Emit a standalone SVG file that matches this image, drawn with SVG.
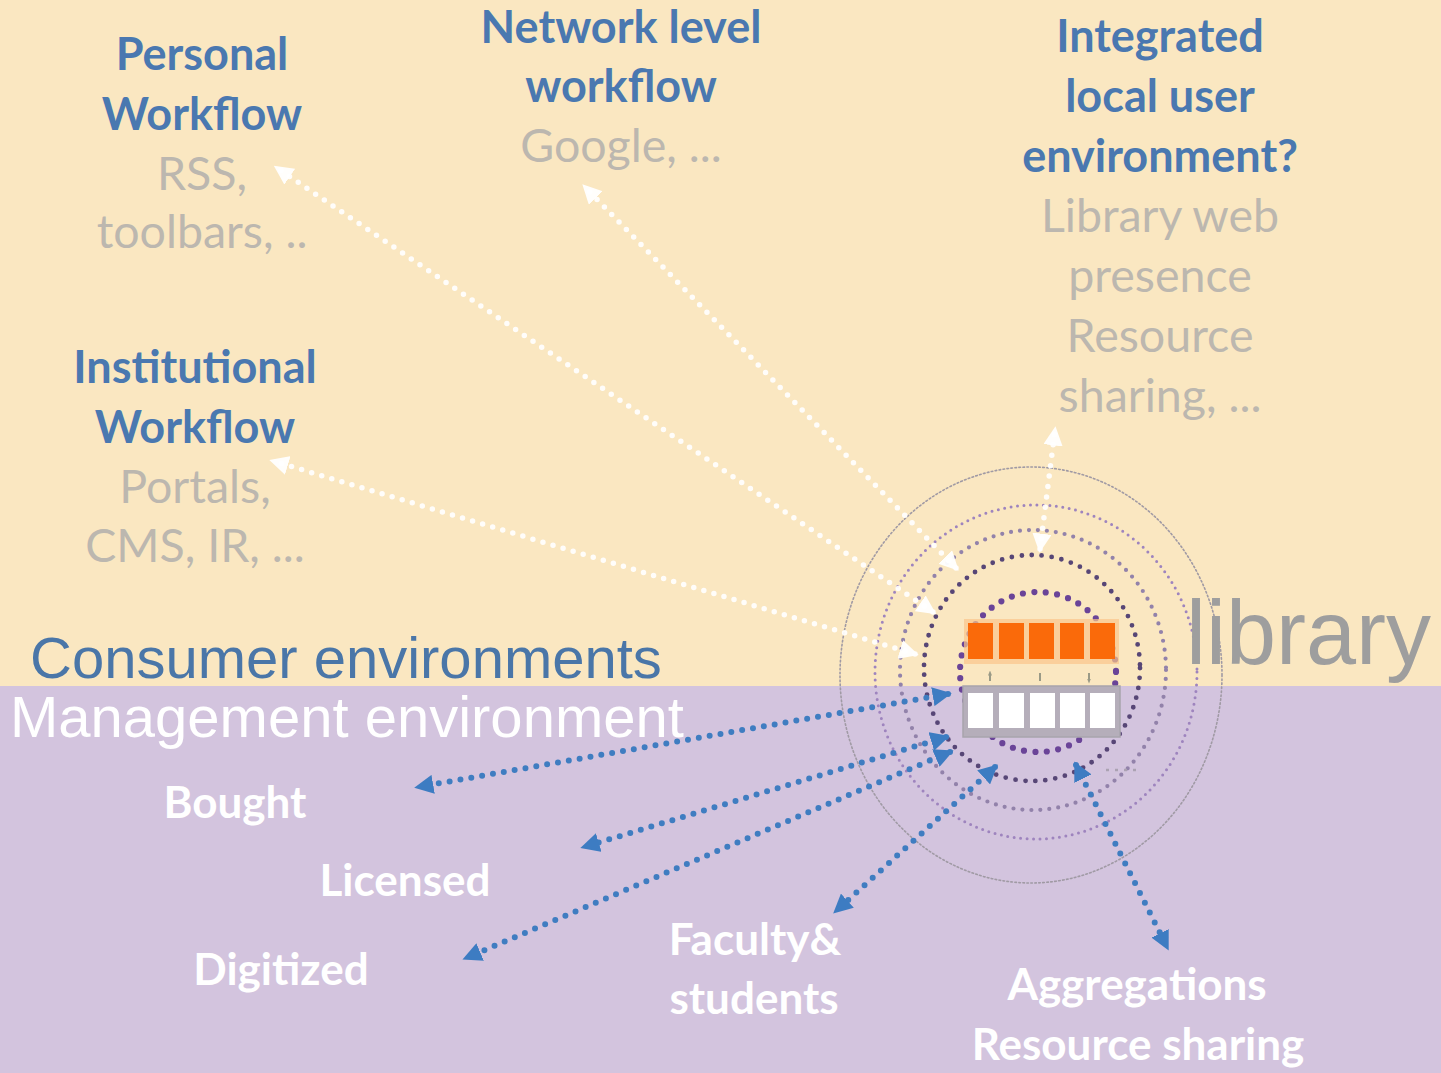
<svg xmlns="http://www.w3.org/2000/svg" width="1441" height="1073" viewBox="0 0 1441 1073">
<defs>
<style>
.hum{font-family:Lato,"Open Sans","Noto Sans",sans-serif;font-weight:700;text-anchor:middle}
.ttl{fill:#4A78B0;font-size:45px}
.sub{fill:#BCB7AF;font-size:46.5px;font-weight:400}
.wht{fill:#FFFFFF;font-size:44px}
.big{font-family:"Liberation Sans",Arial,sans-serif;font-size:58px}
.wline{fill:none;stroke:#FFFFFF;stroke-opacity:0.92;stroke-width:5.5;stroke-linecap:round;stroke-dasharray:0 10.5}
.bline{fill:none;stroke:#3F7DC1;stroke-width:6;stroke-linecap:round;stroke-dasharray:0 11}
.ring{fill:none;stroke-linecap:round}
</style>
<marker id="wh" viewBox="0 0 10 10" refX="8" refY="5" markerWidth="3.5" markerHeight="3.5" orient="auto-start-reverse" markerUnits="strokeWidth">
<path d="M0,0 L10,5 L0,10 z" fill="#FFFFFF" fill-opacity="0.95"/>
</marker>
<marker id="bh" viewBox="0 0 10 10" refX="8" refY="5" markerWidth="3.2" markerHeight="3.2" orient="auto-start-reverse" markerUnits="strokeWidth">
<path d="M0,0 L10,5 L0,10 z" fill="#3D7CC2"/>
</marker>
<marker id="sh" viewBox="0 0 10 10" refX="5" refY="5" markerWidth="2.5" markerHeight="2.5" orient="auto-start-reverse" markerUnits="strokeWidth">
<path d="M0,1 L10,5 L0,9 z" fill="#9A9A86"/>
</marker>
</defs>

<g id="background">
<rect x="0" y="0" width="1441" height="686" fill="#FAE7C1"/>
<rect x="0" y="686" width="1441" height="387" fill="#D3C4DE"/>
</g>

<g id="rings">
<ellipse class="ring" cx="1031" cy="675" rx="191" ry="208" stroke="#A09AA4" stroke-width="1.6" stroke-dasharray="1.6 2.4"/>
<ellipse class="ring" cx="1036" cy="672" rx="161" ry="167" stroke="#9E84BE" stroke-width="3" stroke-dasharray="0 6.5"/>
<ellipse class="ring" cx="1033" cy="670" rx="133" ry="140" stroke="#9282AA" stroke-width="4.2" stroke-dasharray="0 9"/>
<ellipse class="ring" cx="1032" cy="668" rx="108" ry="113" stroke="#574676" stroke-width="4.8" stroke-dasharray="0 10"/>
<ellipse class="ring" cx="1038" cy="672" rx="78" ry="80" stroke="#6A4498" stroke-width="6.2" stroke-dasharray="0 11.5"/>
<path d="M1106,770 L1136,770" stroke="#ABA2B2" stroke-width="2.5" stroke-dasharray="3 6" fill="none"/>
</g>

<g id="library">
<rect x="964" y="619" width="155" height="45" fill="#F9C48A" opacity="0.7"/>
<rect x="968" y="623" width="25" height="36" fill="#FA6A0A"/>
<rect x="999" y="623" width="25" height="36" fill="#FA6A0A"/>
<rect x="1029" y="623" width="25" height="36" fill="#FA6A0A"/>
<rect x="1060" y="623" width="24" height="36" fill="#FA6A0A"/>
<rect x="1090" y="623" width="25" height="36" fill="#FA6A0A"/>
<path d="M990,673 L990,681 M1040,673 L1040,681 M1089,673 L1089,681" stroke="#9A9A86" stroke-width="2" marker-start="url(#sh)" marker-end="url(#sh)" fill="none"/>
<rect x="963" y="686" width="157" height="51" fill="#B5AEBA" stroke="#A8A4AC" stroke-width="1.5"/>
<rect x="968" y="693" width="25" height="35" fill="#FFFFFF"/>
<rect x="999" y="693" width="25" height="35" fill="#FFFFFF"/>
<rect x="1030" y="693" width="25" height="35" fill="#FFFFFF"/>
<rect x="1060" y="693" width="25" height="35" fill="#FFFFFF"/>
<rect x="1090" y="693" width="25" height="35" fill="#FFFFFF"/>
<text x="1186" y="664" font-family="'Liberation Sans',Arial,sans-serif" font-size="90" fill="#9E9E9E">library</text>
</g>

<g id="connectors">
<path class="wline" d="M933,612 L277,168" marker-start="url(#wh)" marker-end="url(#wh)"/>
<path class="wline" d="M956,568 L585,187" marker-start="url(#wh)" marker-end="url(#wh)"/>
<path class="wline" d="M915,654 L273,461" marker-start="url(#wh)" marker-end="url(#wh)"/>
<path class="wline" d="M1040,549 L1055,430" marker-start="url(#wh)" marker-end="url(#wh)"/>
<path class="bline" d="M948,694 L418,787" marker-start="url(#bh)" marker-end="url(#bh)"/>
<path class="bline" d="M946,737 L584,847" marker-start="url(#bh)" marker-end="url(#bh)"/>
<path class="bline" d="M950,752 L466,958" marker-start="url(#bh)" marker-end="url(#bh)"/>
<path class="bline" d="M995,767 L836,911" marker-start="url(#bh)" marker-end="url(#bh)"/>
<path class="bline" d="M1076,765 L1167,947" marker-start="url(#bh)" marker-end="url(#bh)"/>
</g>

<g id="personal" class="hum">
<text class="ttl" x="202" y="70">Personal</text>
<text class="ttl" x="202" y="130">Workflow</text>
<text class="sub" x="202" y="190">RSS,</text>
<text class="sub" x="202" y="248">toolbars, ..</text>
</g>

<g id="network" class="hum">
<text class="ttl" x="621" y="43">Network level</text>
<text class="ttl" x="621" y="102">workflow</text>
<text class="sub" x="621" y="162">Google, ...</text>
</g>

<g id="integrated" class="hum">
<text class="ttl" x="1160" y="52">Integrated</text>
<text class="ttl" x="1160" y="112">local user</text>
<text class="ttl" x="1160" y="172">environment?</text>
<text class="sub" x="1160" y="232">Library web</text>
<text class="sub" x="1160" y="292">presence</text>
<text class="sub" x="1160" y="352">Resource</text>
<text class="sub" x="1160" y="412">sharing, ...</text>
</g>

<g id="institutional" class="hum">
<text class="ttl" x="195" y="383">Institutional</text>
<text class="ttl" x="195" y="443">Workflow</text>
<text class="sub" x="195" y="503">Portals,</text>
<text class="sub" x="195" y="562">CMS, IR, ...</text>
</g>

<g id="consumer">
<text class="big" x="30" y="678" fill="#4A76A8">Consumer environments</text>
</g>
<g id="management">
<text class="big" x="10" y="737" fill="#FFFFFF">Management environment</text>
</g>

<g id="bought" class="hum"><text class="wht" x="235" y="818">Bought</text></g>
<g id="licensed" class="hum"><text class="wht" x="405" y="896">Licensed</text></g>
<g id="digitized" class="hum"><text class="wht" x="281" y="985">Digitized</text></g>
<g id="faculty" class="hum">
<text class="wht" x="755" y="955">Faculty&amp;</text>
<text class="wht" x="754" y="1014">students</text>
</g>
<g id="aggregations" class="hum">
<text class="wht" x="1137" y="1000">Aggregations</text>
<text class="wht" x="1138" y="1060">Resource sharing</text>
</g>
</svg>
